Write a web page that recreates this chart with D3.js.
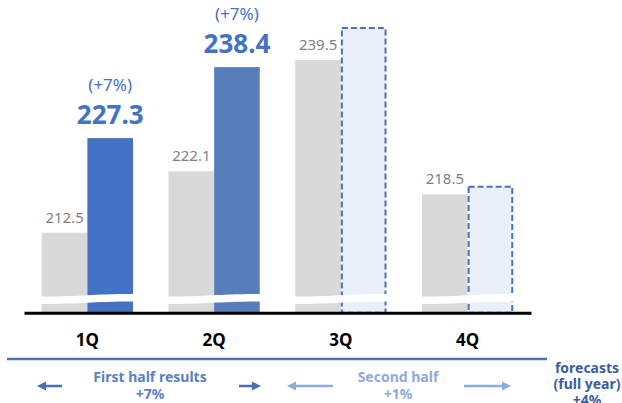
<!DOCTYPE html>
<html>
<head>
<meta charset="utf-8">
<script src="https://cdn.jsdelivr.net/npm/d3@7"></script>
<style>
  body { margin: 0; background: #fff; }
  svg { display: block; font-family: "Noto Sans", sans-serif; }
</style>
</head>
<body>
<div id="chart"></div>
<script>
const quarters = ["1Q", "2Q", "3Q", "4Q"];
const prevYear = [212.5, 222.1, 239.5, 218.5];
const thisYear = [227.3, 238.4, 244.5, 219.7];
const isForecast = [false, false, true, true];
const growthLabels = ["(+7%)", "(+7%)", null, null];
const thisYearColors = ["#4472c4", "#587dbb", "#eaf0f9", "#eaf0f9"];

const width = 622, height = 403;

const svg = d3.select("#chart").append("svg")
  .attr("width", width)
  .attr("height", height);

const x = d3.scaleBand()
  .domain(quarters)
  .range([24, 531])
  .paddingInner(0.28)
  .paddingOuter(0.14);

const sub = d3.scaleBand()
  .domain(["prev", "this"])
  .range([0, x.bandwidth()]);

const y = d3.scaleLinear()
  .domain([200, 245])
  .range([312.7, 24.9]);

const rows = quarters.map((q, i) => ({
  q, prev: prevYear[i], cur: thisYear[i], fc: isForecast[i],
  growth: growthLabels[i], color: thisYearColors[i]
}));

const groups = svg.selectAll("g.quarter")
  .data(rows)
  .enter()
  .append("g")
  .attr("class", "quarter")
  .attr("transform", d => `translate(${x(d.q)},0)`);

// last year bars (grey)
groups.append("rect")
  .attr("x", sub("prev"))
  .attr("width", sub.bandwidth())
  .attr("y", d => y(d.prev))
  .attr("height", d => y(200) - y(d.prev))
  .attr("fill", "#d9d9d9");

// this year bars (solid results, dashed forecasts)
groups.append("rect")
  .attr("x", d => sub("this") + (d.fc ? 1 : 0))
  .attr("width", d => sub.bandwidth() - (d.fc ? 2 : 0))
  .attr("y", d => y(d.cur))
  .attr("height", d => y(200) - y(d.cur))
  .attr("fill", d => d.color)
  .attr("stroke", d => d.fc ? "#4472c4" : "none")
  .attr("stroke-width", 2)
  .attr("stroke-dasharray", d => d.fc ? "6,3" : null);

// axis break
groups.append("path")
  .attr("d", () => {
    const x0 = -3, x1 = x.bandwidth() + 3, m = x.bandwidth() / 2;
    return `M${x0},296.5 C${m},296.5 ${m},294 ${x1},294 L${x1},301.5 C${m},301.5 ${m},304 ${x0},304 Z`;
  })
  .attr("fill", "#fff");

// grey value labels
groups.append("text")
  .attr("x", sub("prev") + sub.bandwidth() / 2)
  .attr("y", d => y(d.prev) - 10)
  .attr("text-anchor", "middle")
  .style("font-size", "15px")
  .style("fill", "#7f7f7f")
  .text(d => d.prev.toFixed(1));

// result labels
const results = groups.filter(d => !d.fc);
results.append("text")
  .attr("x", sub("this") + sub.bandwidth() / 2)
  .attr("y", d => y(d.cur) - 14)
  .attr("text-anchor", "middle")
  .style("font-size", "26px")
  .style("font-weight", "bold")
  .style("fill", "#4472c4")
  .text(d => d.cur.toFixed(1));

results.append("text")
  .attr("x", sub("this") + sub.bandwidth() / 2)
  .attr("y", d => y(d.cur) - 47)
  .attr("text-anchor", "middle")
  .style("font-size", "17px")
  .style("fill", "#4472c4")
  .text(d => d.growth);

// x axis
const xAxis = svg.append("g")
  .attr("transform", `translate(0,${y(200)})`)
  .call(d3.axisBottom(x).tickSize(0).tickSizeOuter(0).tickPadding(0));

xAxis.select(".domain")
  .attr("stroke", "#000")
  .attr("stroke-width", 3);

xAxis.selectAll(".tick text")
  .attr("dy", null)
  .attr("y", 33)
  .style("font-family", "Noto Sans, sans-serif")
  .style("font-size", "17px")
  .style("font-weight", "bold")
  .style("fill", "#000");

// bottom divider
svg.append("line")
  .attr("x1", 7).attr("x2", 547)
  .attr("y1", 359).attr("y2", 359)
  .attr("stroke", "#4472c4")
  .attr("stroke-width", 2.5);

function arrow(x1, x2, yy, color) {
  const dir = Math.sign(x2 - x1);
  svg.append("line")
    .attr("x1", x1).attr("x2", x2 - dir * 6)
    .attr("y1", yy).attr("y2", yy)
    .attr("stroke", color)
    .attr("stroke-width", 2.5);
  svg.append("path")
    .attr("d", `M${x2},${yy} L${x2 - dir * 9},${yy - 4.5} L${x2 - dir * 9},${yy + 4.5} Z`)
    .attr("fill", color);
}

const darkBlue = "#4a6fb5", lightBlue = "#8faadc";
arrow(62, 37, 386, darkBlue);
arrow(239, 261, 386, darkBlue);
arrow(333, 287, 386, lightBlue);
arrow(464, 511, 386, lightBlue);

function note(cx, lines, y0, color, step) {
  const t = svg.append("text")
    .attr("text-anchor", "middle")
    .style("font-size", "14px")
    .style("font-weight", "bold")
    .style("fill", color);
  lines.forEach((s, i) => {
    t.append("tspan").attr("x", cx).attr("y", y0 + i * step).text(s);
  });
}

note(150, ["First half results", "+7%"], 382, "#5b7fc4", 17);
note(398, ["Second half", "+1%"], 382, lightBlue, 17);
note(587, ["forecasts", "(full year)", "+4%"], 373, "#3d5d9e", 16);
</script>
</body>
</html>
